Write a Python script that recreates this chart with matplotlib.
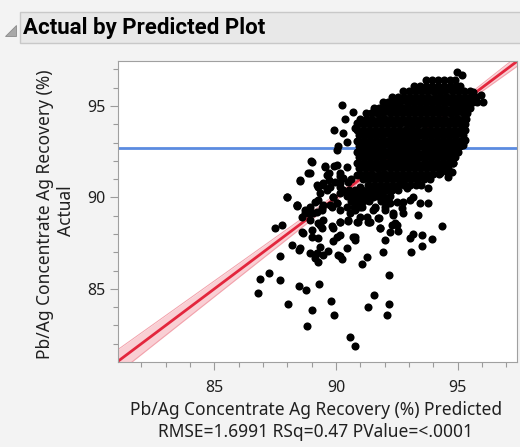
import numpy as np
import matplotlib
matplotlib.use("Agg")
import matplotlib.pyplot as plt
from matplotlib.patches import Rectangle, Polygon

plt.rcParams['font.family'] = ['Noto Sans', 'DejaVu Sans']

# scattered points (predicted, actual)
pred_out = [87.70, 86.88, 87.26, 87.70, 86.81, 88.04, 88.49, 88.77, 89.30, 88.79,
            89.00, 89.78, 89.92, 90.58, 90.78, 91.33, 91.58, 92.18, 92.08, 92.19,
            91.05, 91.26, 91.95, 93.07, 88.93, 89.21, 89.27, 89.14, 90.10, 90.23,
            89.68, 88.49,
            91.78, 92.01, 92.36, 92.70, 92.77, 92.42, 92.29, 92.56, 91.81, 92.01,
            93.04, 93.18, 93.52, 93.93, 93.52, 94.34, 93.38, 93.45, 93.79, 93.79,
            93.04, 93.18, 92.77, 92.49, 92.01, 91.67, 91.53, 91.95, 91.53, 91.40,
            92.90, 92.77, 93.38, 93.59, 94.27, 94.55, 94.75,
            89.00, 89.55, 90.03, 90.44, 88.93, 88.52, 87.97, 88.38, 88.73, 88.86,
            88.59, 87.77, 87.49, 88.18, 88.59, 89.00, 89.00, 89.34, 89.48, 89.27,
            89.34, 88.52, 89.48, 89.82, 90.03, 89.89, 90.16, 90.44, 90.71, 90.78,
            90.16,
            89.21, 89.48, 89.75, 90.16, 90.51, 89.34, 89.89, 89.27, 89.48, 89.82,
            90.03, 90.16, 90.44, 90.71, 90.85, 90.99, 89.41, 89.07, 88.93, 90.58,
            90.78, 91.05, 91.26, 91.40, 90.44, 90.16, 89.62, 90.16, 90.85,
            90.99, 91.26, 90.85, 90.51, 91.34,
            90.23, 90.71, 90.37, 89.92, 90.27, 90.47, 90.10, 90.03, 88.96, 89.55,
            90.78, 90.85,
            88.51, 88.86, 87.99, 88.38, 89.73, 89.93, 90.18, 90.60,
            94.99, 95.16, 96.05, 95.64, 95.96, 95.30, 95.23, 94.68, 94.82, 94.62]
act_out = [86.77, 85.55, 85.86, 85.46, 84.76, 84.18, 85.16, 84.95, 85.25, 82.98,
           83.85, 84.36, 83.56, 82.36, 81.89, 84.00, 84.67, 84.18, 83.58, 85.77,
           86.35, 86.73, 87.04, 87.04, 86.95, 86.95, 86.49, 86.68, 86.86, 86.62,
           87.09, 87.13,
           88.86, 89.32, 89.04, 89.41, 89.13, 88.59, 88.50, 88.17, 88.32, 87.68,
           87.77, 88.01, 87.95, 87.73, 87.37, 88.44, 89.04, 89.68, 89.68, 90.50,
           89.86, 90.05, 89.77, 89.77, 90.50, 90.41, 90.05, 90.05, 89.32, 88.68,
           90.50, 90.77, 91.05, 91.14, 91.32, 91.41, 91.41,
           91.96, 91.68, 91.78, 91.68, 91.32, 90.96, 90.05, 89.59, 89.32, 89.13,
           88.95, 88.50, 88.32, 87.40, 88.13, 88.22, 87.86, 88.50, 88.77, 87.77,
           87.31, 87.22, 86.86, 88.41, 87.86, 87.59, 88.68, 87.22, 87.86, 87.68,
           86.77,
           90.68, 90.77, 90.59, 90.77, 90.87, 90.23, 90.05, 89.86, 89.59, 89.50,
           89.68, 89.32, 89.50, 89.86, 90.23, 90.59, 89.32, 89.13, 89.50, 89.13,
           89.32, 89.50, 89.86, 90.23, 90.23, 90.23, 91.23, 91.32, 91.23,
           88.95, 88.95, 88.64, 88.73, 88.64,
           95.05, 94.69, 94.27, 93.69, 93.54, 93.05, 92.81, 92.60, 92.01, 91.72,
           93.78, 94.05,
           90.92, 91.32, 90.03, 89.54, 91.32, 91.74, 91.19, 91.01,
           96.88, 96.69, 95.24, 95.78, 95.60, 93.14, 92.87, 92.23, 91.87, 91.14]

# busier band just under the core
pred_mid = [89.26, 89.47, 89.63, 89.88, 90.04, 89.76, 89.43, 89.14, 89.22, 88.85,
            88.72, 88.40, 89.26, 89.43, 88.93, 88.64, 89.88, 90.16, 90.49, 90.90,
            91.32, 91.73, 91.81, 90.78, 90.16, 92.22, 92.50, 92.22, 92.35, 91.60,
            89.95, 90.15, 89.70, 90.30,
            90.30, 90.55, 90.80, 91.05, 91.30, 91.55, 91.80, 92.05, 92.30, 92.55,
            90.45, 90.70, 90.95, 91.20, 91.45, 91.70, 91.95, 92.20,
            90.60, 90.85, 91.10, 91.35, 91.85, 92.10,
            90.75, 91.00, 91.60, 92.00]
act_mid = [90.57, 90.68, 90.41, 90.03, 89.70, 89.59, 89.43, 89.75, 89.21, 89.32,
           89.15, 89.59, 88.60, 88.33, 88.77, 88.06, 88.33, 88.66, 88.77, 88.66,
           88.66, 88.88, 88.33, 87.84, 87.95, 88.11, 88.50, 89.70, 89.15, 89.43,
           90.85, 90.55, 90.95, 91.05,
           90.40, 90.40, 90.40, 90.40, 90.40, 90.40, 90.40, 90.40, 90.40, 90.40,
           90.10, 90.10, 90.10, 90.10, 90.10, 90.10, 90.10, 90.10,
           89.80, 89.80, 89.80, 89.80, 89.80, 89.80,
           89.50, 89.50, 89.50, 89.50]

# dense core of the cloud: (actual, predicted values on that row)
core_rows = [
    (96.40, [93.70, 93.95, 94.20, 94.45, 94.70, 94.90]),
    (96.10, [93.20, 93.45, 93.70, 93.95, 94.20, 94.45, 94.70, 94.95, 95.10]),
    (95.80, [92.75, 93.00, 93.25, 93.50, 93.75, 94.00, 94.25, 94.50, 94.75, 95.00,
             95.25, 95.50]),
    (95.50, [92.30, 92.55, 92.80, 93.05, 93.30, 93.55, 93.80, 94.05, 94.30, 94.55,
             94.80, 95.05, 95.30, 95.55, 95.75]),
    (95.20, [91.95, 92.15, 92.40, 92.65, 92.90, 93.15, 93.40, 93.65, 93.90, 94.15,
             94.40, 94.65, 94.90, 95.15, 95.40, 95.65, 95.80]),
    (94.90, [91.55, 91.75, 92.00, 92.25, 92.50, 92.75, 93.00, 93.25, 93.50, 93.75,
             94.00, 94.25, 94.50, 94.75, 95.00, 95.25, 95.50]),
    (94.60, [91.25, 91.45, 91.70, 91.95, 92.20, 92.45, 92.70, 92.95, 93.20, 93.45,
             93.70, 93.95, 94.20, 94.45, 94.70, 94.95, 95.20, 95.40]),
    (94.30, [91.00, 91.25, 91.50, 91.75, 92.00, 92.25, 92.50, 92.75, 93.00, 93.25,
             93.50, 93.75, 94.00, 94.25, 94.50, 94.75, 95.00, 95.25, 95.35]),
    (94.00, [90.90, 91.15, 91.40, 91.65, 91.90, 92.15, 92.40, 92.65, 92.90, 93.15,
             93.40, 93.65, 93.90, 94.15, 94.40, 94.65, 94.90, 95.15, 95.30]),
    (93.70, [90.85, 91.10, 91.35, 91.60, 91.85, 92.10, 92.35, 92.60, 92.85, 93.10,
             93.35, 93.60, 93.85, 94.10, 94.35, 94.60, 94.85, 95.10, 95.30]),
    (93.40, [90.95, 91.20, 91.45, 91.70, 91.95, 92.20, 92.45, 92.70, 92.95, 93.20,
             93.45, 93.70, 93.95, 94.20, 94.45, 94.70, 94.95, 95.20]),
    (93.10, [90.85, 91.10, 91.35, 91.60, 91.85, 92.10, 92.35, 92.60, 92.85, 93.10,
             93.35, 93.60, 93.85, 94.10, 94.35, 94.60, 94.85, 95.10, 95.25]),
    (92.80, [90.95, 91.20, 91.45, 91.70, 91.95, 92.20, 92.45, 92.70, 92.95, 93.20,
             93.45, 93.70, 93.95, 94.20, 94.45, 94.70, 94.95, 95.10]),
    (92.50, [90.85, 91.10, 91.35, 91.60, 91.85, 92.10, 92.35, 92.60, 92.85, 93.10,
             93.35, 93.60, 93.85, 94.10, 94.35, 94.60, 94.85, 95.00]),
    (92.20, [90.95, 91.20, 91.45, 91.70, 91.95, 92.20, 92.45, 92.70, 92.95, 93.20,
             93.45, 93.70, 93.95, 94.20, 94.45, 94.70, 94.90]),
    (91.90, [90.85, 91.10, 91.35, 91.60, 91.85, 92.10, 92.35, 92.60, 92.85, 93.10,
             93.35, 93.60, 93.85, 94.10, 94.35, 94.60, 94.80]),
    (91.60, [90.95, 91.20, 91.45, 91.70, 91.95, 92.20, 92.45, 92.70, 92.95, 93.20,
             93.45, 93.70, 93.95, 94.20, 94.45, 94.60]),
    (91.30, [91.00, 91.25, 91.50, 91.75, 92.00, 92.25, 92.50, 92.75, 93.00, 93.25,
             93.50, 93.75, 94.00, 94.25]),
    (91.00, [91.10, 91.35, 91.60, 91.85, 92.10, 92.35, 92.60, 92.85, 93.10, 93.35,
             93.60, 93.85]),
    (90.70, [91.30, 91.55, 91.80, 92.05, 92.30, 92.55, 92.80, 93.05, 93.30, 93.50]),
]

mean_actual = 92.7
rmse = 1.6991
n_obs = 1450
sxx = 3709.0
x_lim = (81.04, 97.44)
y_lim = (81.0, 97.46)

pred = list(pred_out) + list(pred_mid)
act = list(act_out) + list(act_mid)
for a, ps in core_rows:
    pred += ps
    act += [a] * len(ps)

W, H = 520, 447
fig = plt.figure(figsize=(W / 100, H / 100), dpi=100)
fig.patch.set_facecolor('#f3f3f3')

def fx(px):
    return px / W

def fy(py):
    return 1 - py / H

# title bar
fig.patches.append(Rectangle((fx(20), fy(43)), fx(505), 31 / H, transform=fig.transFigure,
                             facecolor='#e8e8e8', edgecolor='#c8c8c8', lw=1))
fig.patches.append(Polygon([(fx(5), fy(36)), (fx(16), fy(36)), (fx(16), fy(25))], closed=True,
                           transform=fig.transFigure, facecolor='#a8a8a8', edgecolor='#8a8a8a', lw=0.6))
fig.text(fx(23), fy(28), 'Actual by Predicted Plot', fontsize=16, fontweight='bold',
         family=['Roboto', 'DejaVu Sans'], va='center', ha='left', color='black')

ax = fig.add_axes([fx(118), fy(362), fx(517) - fx(118), fy(61) - fy(362)])
ax.set_facecolor('white')
ax.set_xlim(*x_lim)
ax.set_ylim(*y_lim)

xs = np.linspace(x_lim[0], x_lim[1], 200)
half = 1.96 * rmse * np.sqrt(1 / n_obs + (xs - mean_actual) ** 2 / sxx)
ax.fill_between(xs, xs - half, xs + half, color='#f9cfd4', lw=0, zorder=1)
ax.plot(xs, xs - half, color='#f2a0aa', lw=0.7, zorder=1)
ax.plot(xs, xs + half, color='#f2a0aa', lw=0.7, zorder=1)
ax.plot(xs, xs, color='#e3263d', lw=2.0, zorder=2)
ax.axhline(mean_actual, color='#5b8be0', lw=2.0, zorder=2)

ax.scatter(pred, act, s=34, color='black', linewidths=0, zorder=3)

ax.set_xticks([85, 90, 95])
ax.set_yticks([85, 90, 95])
ax.set_xticks(np.arange(82, 98, 1), minor=True)
ax.set_yticks(np.arange(82, 98, 1), minor=True)
ax.tick_params(which='major', length=6, width=0.8, color='#9a9a9a', labelsize=11.5,
               labelcolor='#202020', pad=3)
ax.tick_params(which='minor', length=3.5, width=0.8, color='#9a9a9a')
ax.tick_params(axis='x', which='major', pad=7)
for sp in ax.spines.values():
    sp.set_color('#a0a0a0')
    sp.set_linewidth(0.8)

fig.text(fx(45), fy(214), 'Pb/Ag Concentrate Ag Recovery (%)', rotation=90, fontsize=12.5,
         ha='center', va='center', color='#202020')
fig.text(fx(66), fy(211), 'Actual', rotation=90, fontsize=12.5,
         ha='center', va='center', color='#202020')
fig.text(fx(316), fy(410), 'Pb/Ag Concentrate Ag Recovery (%) Predicted', fontsize=12.5,
         ha='center', va='center', color='#202020')
fig.text(fx(316), fy(432), 'RMSE=1.6991 RSq=0.47 PValue=<.0001', fontsize=12.5,
         ha='center', va='center', color='#202020')

fig.savefig('out.png', dpi=100, facecolor=fig.get_facecolor())
